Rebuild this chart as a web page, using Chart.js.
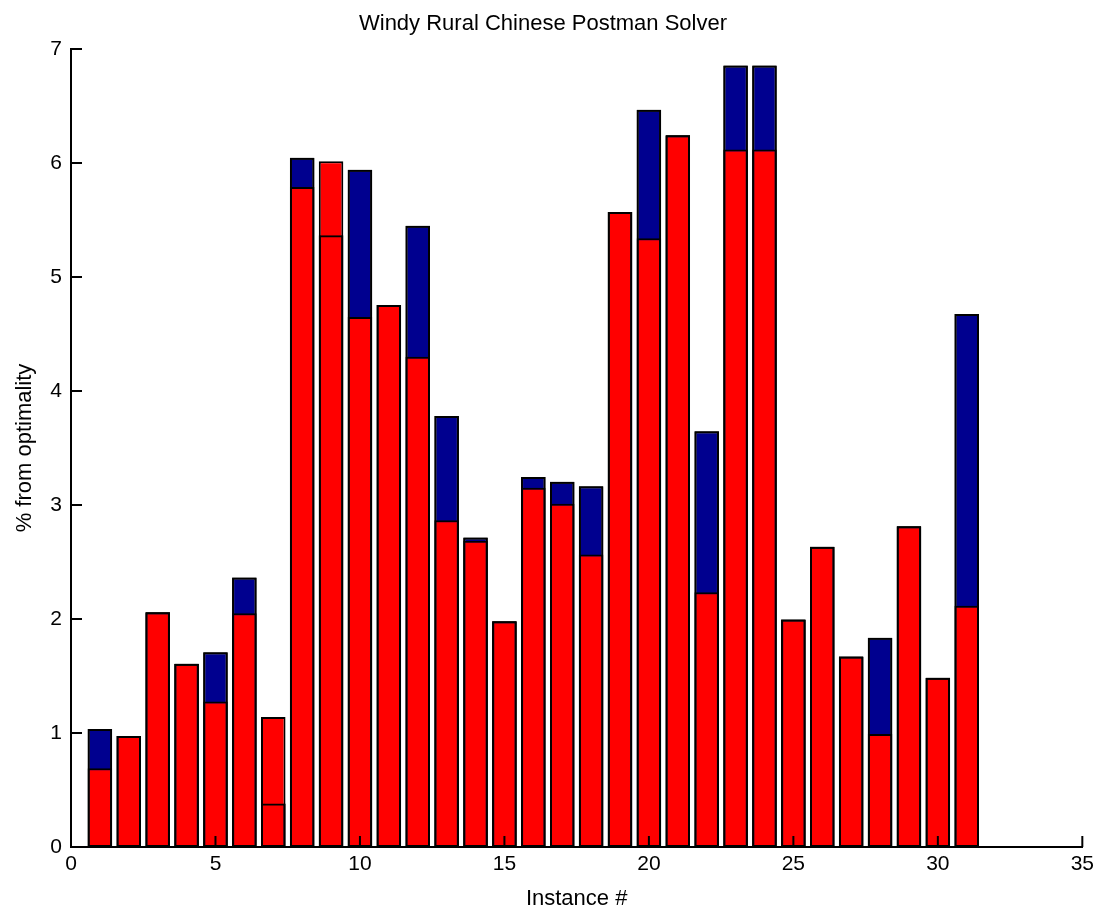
<!DOCTYPE html>
<html>
<head>
<meta charset="utf-8">
<title>Windy Rural Chinese Postman Solver</title>
<script src="https://cdn.jsdelivr.net/npm/chart.js@4/dist/chart.umd.min.js"></script>
<style>
  html, body { margin: 0; padding: 0; background: #fff; }
  #wrap { width: 1099px; height: 912px; }
</style>
</head>
<body>
<div id="wrap"><canvas id="chart" width="1099" height="912"></canvas></div>
<script>
// Instance numbers on the x axis
const instances = [1, 2, 3, 4, 5, 6, 7, 8, 9, 10, 11, 12, 13, 14, 15, 16,
  17, 18, 19, 20, 21, 22, 23, 24, 25, 26, 27, 28, 29, 30, 31];

// blue series (drawn behind)
const blueVals = [1.035, 0.974, 2.06, 1.607, 1.709, 2.365, 0.382, 6.045, 5.366, 5.94,
  4.755, 5.45, 3.78, 2.715, 1.98, 3.246, 3.205, 3.164, 5.57, 6.468,
  6.244, 3.648, 6.856, 6.856, 1.995, 2.633, 1.671, 1.835, 2.814, 1.485, 4.675];

// red series (drawn in front)
const redVals = [0.69, 0.974, 2.06, 1.607, 1.277, 2.05, 1.14, 5.79, 6.015, 4.65,
  4.755, 4.30, 2.867, 2.686, 1.98, 3.152, 3.012, 2.566, 5.57, 5.34,
  6.244, 2.234, 6.118, 6.118, 1.995, 2.633, 1.671, 0.991, 2.814, 1.485, 2.117];

const xTicks = [0, 5, 10, 15, 20, 25, 30, 35];
const yTicks = [0, 1, 2, 3, 4, 5, 6, 7];

const toPoints = vals => vals.map((v, i) => ({ x: instances[i], y: v }));

// matlab style ticks pointing into the axes
const inwardTicks = {
  id: "inwardTicks",
  afterDraw(chart) {
    const c = chart.ctx;
    const xs = chart.scales.x;
    const ys = chart.scales.y;
    const len = 11;
    c.save();
    c.strokeStyle = "#000";
    c.lineWidth = 2;
    c.beginPath();
    xTicks.forEach(t => {
      const px = xs.getPixelForValue(t);
      c.moveTo(px, ys.bottom);
      c.lineTo(px, ys.bottom - len);
    });
    yTicks.forEach(t => {
      const py = ys.getPixelForValue(t);
      c.moveTo(xs.left, py);
      c.lineTo(xs.left + len, py);
    });
    c.stroke();
    c.restore();
  }
};

const font = "'Liberation Sans', Arial, Helvetica, sans-serif";
Chart.defaults.color = "#000";
Chart.defaults.font.family = font;

new Chart(document.getElementById("chart").getContext("2d"), {
  type: "bar",
  data: {
    datasets: [
      {
        // outline of the blue bars, shows where blue sits under red
        label: "blue edge",
        data: toPoints(blueVals),
        backgroundColor: "rgba(0,0,0,0)",
        borderColor: "#000",
        borderWidth: 2,
        order: 0
      },
      {
        label: "red",
        data: toPoints(redVals),
        backgroundColor: "#ff0000",
        borderColor: "#000",
        borderWidth: 2,
        order: 1
      },
      {
        label: "blue",
        data: toPoints(blueVals),
        backgroundColor: "#00008f",
        borderColor: "#000",
        borderWidth: 2,
        order: 2
      }
    ]
  },
  options: {
    responsive: false,
    animation: false,
    layout: { padding: { left: 0, right: 13, top: 0, bottom: 0 } },
    datasets: {
      bar: {
        grouped: false,
        barPercentage: 0.85,
        categoryPercentage: 1.0,
        borderSkipped: false
      }
    },
    plugins: {
      legend: { display: false },
      tooltip: { enabled: false },
      title: {
        display: true,
        text: "Windy Rural Chinese Postman Solver",
        font: { size: 22, weight: "normal" },
        padding: { top: 10.8, bottom: 11.8 }
      }
    },
    scales: {
      x: {
        type: "linear",
        min: 0,
        max: 35,
        offset: false,
        afterFit: s => { s.height = 65; },
        afterBuildTicks: s => { s.ticks = xTicks.map(v => ({ value: v })); },
        ticks: { font: { size: 21 }, padding: 5, maxRotation: 0 },
        grid: { display: false, drawTicks: false },
        border: { display: true, color: "#000", width: 2 },
        title: {
          display: true,
          text: "Instance #",
          font: { size: 22 },
          padding: { top: 0, bottom: 0 }
        }
      },
      y: {
        min: 0,
        max: 7,
        afterFit: s => { s.width = 71; },
        afterBuildTicks: s => { s.ticks = yTicks.map(v => ({ value: v })); },
        ticks: { font: { size: 21 }, padding: 9 },
        grid: { display: false, drawTicks: false },
        border: { display: true, color: "#000", width: 2 },
        title: {
          display: true,
          text: "% from optimality",
          font: { size: 22 },
          padding: { top: 11.8, bottom: 0 }
        }
      }
    }
  },
  plugins: [inwardTicks]
});
</script>
</body>
</html>
